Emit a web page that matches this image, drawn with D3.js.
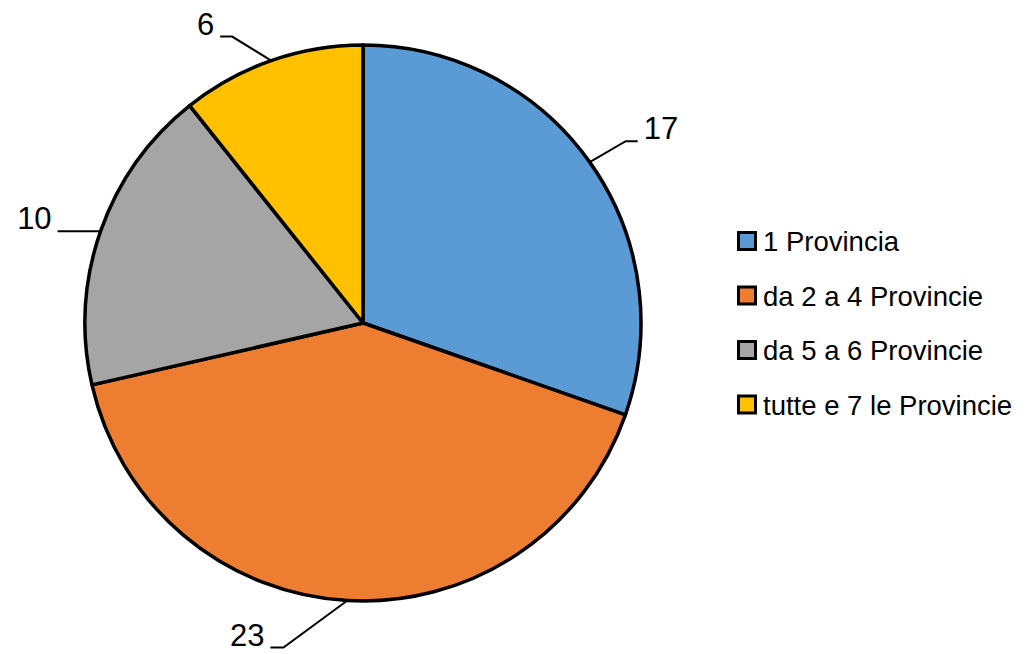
<!DOCTYPE html>
<html lang="it">
  <head>
    <meta charset="UTF-8" />
    <title>Province</title>
    <script src="https://cdn.jsdelivr.net/npm/d3@7"></script>
    <style>
      body { margin: 0; background: #fff; }
      text { font-family: "Liberation Sans", Arial, sans-serif; fill: #000; }
    </style>
  </head>
  <body>
    <svg id="container" width="1034" height="654"></svg>
    <script>
      // dati del grafico
      const categories = ["1 Provincia", "da 2 a 4 Provincie", "da 5 a 6 Provincie", "tutte e 7 le Provincie"];
      const values = [17, 23, 10, 6];
      const colors = ["#5b9bd5", "#ed7d31", "#a5a5a5", "#ffc000"];

      // spostamento del gomito della linea guida rispetto al bordo della torta
      const elbow = [[36, -21], [-64, 47], [0, 0], [-39, -24]];
      const tail = [12, -13, -43, -12];

      const svg = d3.select("#container");
      const cx = 363, cy = 323, radius = 278;

      const pie = d3.pie().sort(null).value((d) => d)(values);
      const arc = d3.arc().innerRadius(0).outerRadius(radius);

      const g = svg.append("g").attr("transform", `translate(${cx},${cy})`);
      g.selectAll("path")
        .data(pie)
        .enter()
        .append("path")
        .attr("d", arc)
        .attr("fill", (d, i) => colors[i])
        .attr("stroke", "#000")
        .attr("stroke-width", 3.5)
        .attr("stroke-linejoin", "round");

      // etichette con linee guida
      pie.forEach((d, i) => {
        const a = (d.startAngle + d.endAngle) / 2;
        const x0 = Math.sin(a) * radius, y0 = -Math.cos(a) * radius;
        const x1 = x0 + elbow[i][0], y1 = y0 + elbow[i][1];
        const x2 = x1 + tail[i];
        g.append("polyline")
          .attr("points", `${x0},${y0} ${x1},${y1} ${x2},${y1}`)
          .attr("fill", "none")
          .attr("stroke", "#000")
          .attr("stroke-width", 2);
        const right = tail[i] > 0;
        g.append("text")
          .attr("x", x2 + (right ? 6 : -6))
          .attr("y", y1 - 2)
          .attr("text-anchor", right ? "start" : "end")
          .attr("font-size", 31)
          .text(values[i]);
      });

      // legenda
      const legend = svg.append("g").attr("transform", "translate(737,241)");
      const rows = legend.selectAll("g")
        .data(categories)
        .enter()
        .append("g")
        .attr("transform", (d, i) => `translate(0,${i * 54.5})`);
      rows.append("rect")
        .attr("x", 1.5).attr("y", -8.5)
        .attr("width", 17).attr("height", 17)
        .attr("fill", (d, i) => colors[i])
        .attr("stroke", "#000")
        .attr("stroke-width", 3);
      rows.append("text")
        .attr("x", 26)
        .attr("y", 10)
        .attr("font-size", 27.5)
        .text((d) => d);
    </script>
  </body>
</html>
